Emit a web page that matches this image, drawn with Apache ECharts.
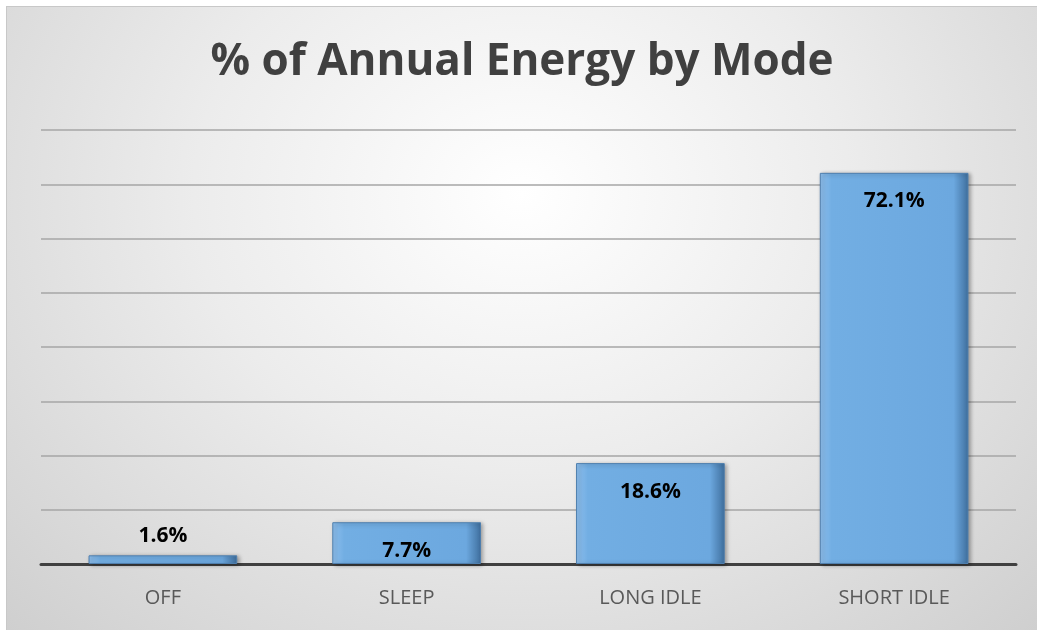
<!DOCTYPE html>
<html><head><meta charset="utf-8">
<script src="https://cdn.jsdelivr.net/npm/echarts@6/dist/echarts.min.js"></script>
<style>
html,body{margin:0;padding:0;background:#fff;width:1037px;height:630px;overflow:hidden;}
#c{position:absolute;left:6px;top:6px;width:1031px;height:624px;
background:radial-gradient(ellipse at 50% 30%, #ffffff 0%, #ececec 45%, #cfcfcf 100%);
border-top:1px solid #c8c8c8;border-left:1px solid #c8c8c8;box-sizing:border-box;}
</style></head><body>
<div id="c"></div>
<script>
const categories = ['OFF', 'SLEEP', 'LONG IDLE', 'SHORT IDLE'];
const values = [1.6, 7.7, 18.6, 72.1];
const titleText = '% of Annual Energy by Mode';

const chart = echarts.init(document.getElementById('c'));
const barFill = new echarts.graphic.LinearGradient(0, 0, 1, 0, [
  {offset: 0, color: '#8fc0ee'},
  {offset: 0.08, color: '#72aee3'},
  {offset: 0.9, color: '#6ca8df'},
  {offset: 1, color: '#3f6f9e'}
]);
chart.setOption({
  backgroundColor: 'transparent',
  title: {
    text: titleText, left: 'center', top: 28,
    textStyle: {fontFamily: 'Open Sans', fontWeight: 'bold', fontSize: 44, color: '#404040'}
  },
  grid: {left: 34, right: 21, top: 123, bottom: 66, containLabel: false},
  xAxis: {
    type: 'category', data: categories,
    axisLine: {lineStyle: {color: '#404040', width: 3}},
    axisTick: {show: false},
    axisLabel: {fontFamily: 'Open Sans', fontSize: 20, color: '#595959', margin: 24}
  },
  yAxis: {
    type: 'value', min: 0, max: 80, interval: 10,
    axisLabel: {show: false}, axisLine: {show: false}, axisTick: {show: false},
    splitLine: {lineStyle: {color: '#a6a6a6', width: 1.5}}
  },
  series: [{
    type: 'bar', data: values.map((v, i) => ({
      value: v,
      label: {position: i === 0 ? 'top' : 'insideTop', distance: i === 0 ? 9 : 18}
    })),
    barWidth: '61%',
    itemStyle: {color: barFill, borderColor: '#4f7fae', borderWidth: 1,
      shadowColor: 'rgba(0,0,0,0.35)', shadowBlur: 4, shadowOffsetX: 2, shadowOffsetY: 1},
    label: {show: true, formatter: p => p.value.toFixed(1) + '%',
      fontFamily: 'Open Sans', fontWeight: 'bold', fontSize: 21, color: '#000'}
  }]
});
</script></body></html>
